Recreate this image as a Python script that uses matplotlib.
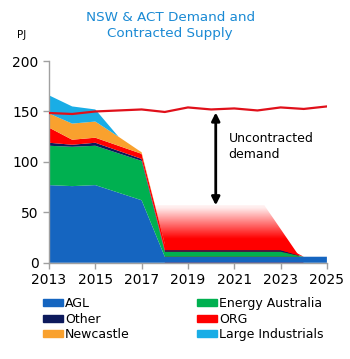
import numpy as np
import matplotlib.pyplot as plt
from matplotlib.patches import Rectangle, Polygon

# supply by source (PJ), stacked in this order from the bottom
years = np.arange(2013, 2026)
agl = [77, 76, 77, 69.5, 62, 6, 6, 6, 6, 6, 6, 6, 6]
energy_aus = [39, 39, 39, 39, 39, 5, 5, 5, 5, 5, 5, 0, 0]
other = [3, 2, 3, 2.5, 2, 1.5, 1.5, 1.5, 1.5, 1.5, 1.5, 0, 0]
org = [15, 5, 5, 5, 5, 6.5, 6, 5.5, 5.5, 5.5, 5.5, 0, 0]
newcastle = [14, 16, 16, 9, 1.5, 0, 0, 0, 0, 0, 0, 0, 0]
large_ind = [18, 17, 12, 0, 0, 0, 0, 0, 0, 0, 0, 0, 0]

# total NSW & ACT demand (PJ)
demand = [148.5, 147.5, 150, 151, 152, 149.5, 154, 152, 153, 151, 154, 152.5, 155]

labels = ["AGL", "Energy Australia", "Other", "ORG", "Newcastle", "Large Industrials"]
colors = ["#1565c0", "#00b050", "#0d1a5c", "#ff0000", "#f9a12e", "#19ade6"]

# uncontracted-demand annotation
arrow_x, arrow_top, arrow_bot = 2020.2, 149, 57
fade_poly = [(2017.57, 57), (2022.3, 57), (2024, 0), (2018, 0), (2018, 18.5)]

fig = plt.figure(figsize=(3.5, 3.59), dpi=100)
ax = fig.add_axes([0.14, 0.268, 0.794, 0.562])

# red fading band above the remaining contracts
grad = np.zeros((200, 2, 4))
vals = np.linspace(0, 60, 200)
grad[:, :, 0] = 1.0
alpha = np.clip((57 - vals) / (57 - 24), 0.07, 1.0)
grad[:, :, 3] = alpha[:, None]
im = ax.imshow(grad, extent=[2017, 2025, 0, 60], origin="lower",
               aspect="auto", zorder=1, interpolation="bilinear")
clip = Polygon(fade_poly, closed=True, transform=ax.transData, facecolor="none", edgecolor="none")
ax.add_patch(clip)
im.set_clip_path(clip)

ax.stackplot(years, agl, energy_aus, other, org, newcastle, large_ind,
             colors=colors, linewidth=0, zorder=2)
ax.plot(years, demand, color="#e0101a", lw=1.6, zorder=3)

ax.annotate("", xy=(arrow_x, arrow_bot), xytext=(arrow_x, arrow_top),
            arrowprops=dict(arrowstyle="<|-|>", color="black", lw=2,
                            mutation_scale=12, shrinkA=0, shrinkB=0), zorder=4)
ax.text(2020.75, 130, "Uncontracted\ndemand", fontsize=9, va="top", ha="left",
        linespacing=1.3)

ax.set_xlim(2013, 2025)
ax.set_ylim(0, 200)
ax.set_xticks(range(2013, 2026, 2))
ax.set_yticks(range(0, 201, 50))
for s in ["top", "right"]:
    ax.spines[s].set_visible(False)
for s in ["left", "bottom"]:
    ax.spines[s].set_color("#a0a0a0")
    ax.spines[s].set_linewidth(1)
ax.tick_params(colors="#a0a0a0", labelcolor="black", labelsize=10, length=4, width=1)
ax.tick_params(axis="x", pad=3)

fig.text(0.486, 0.968, "NSW & ACT Demand and\nContracted Supply", ha="center", va="top",
         fontsize=9.7, color="#1a8ad4", linespacing=1.25)
fig.text(0.063, 0.903, "PJ", ha="center", va="center", fontsize=7.5)

order = [0, 2, 4, 1, 3, 5]
handles = [Rectangle((0, 0), 1, 1, color=colors[i]) for i in order]
fig.legend(handles, [labels[i] for i in order], ncol=2, loc="upper left",
           bbox_to_anchor=(0.123, 0.172), frameon=False, fontsize=9,
           borderpad=0, borderaxespad=0, handlelength=1.6, handleheight=0.5,
           handletextpad=0.15, labelspacing=0.2, columnspacing=5.4)

fig.savefig("out.png", dpi=100)
